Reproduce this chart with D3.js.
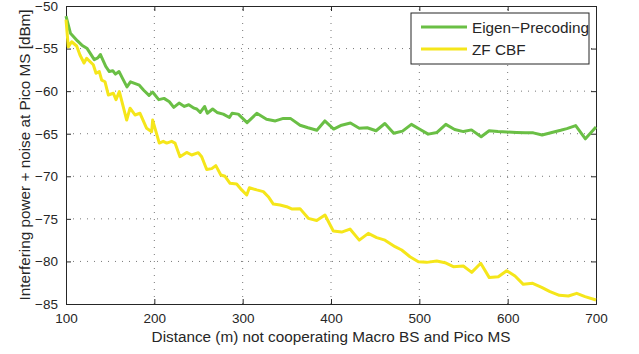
<!DOCTYPE html>
<html>
<head>
<meta charset="utf-8">
<script src="https://cdn.jsdelivr.net/npm/d3@7"></script>
<style>
  body { margin: 0; background: #fff; }
  text { font-family: "Liberation Sans", Arial, sans-serif; fill: #262626; }
</style>
</head>
<body>
<div id="viz"></div>
<script>
// data
const xTicks = [100, 200, 300, 400, 500, 600, 700]
const yTicks = [-85, -80, -75, -70, -65, -60, -55, -50]
const seriesNames = ["Eigen\u2212Precoding", "ZF CBF"]

const eigenDist = [100,105,113,118,124,132,136,139,145,149,153,156,160,164,169,173,183,188,194,198,205,211,217,222,228,234,239,245,248,252,257,260,266,271,278,285,288,295,305,316,327,337,346,354,365,374,384,393,403,412,422,432,441,451,461,471,481,491,501,510,520,530,540,550,559,570,579,589,599,610,620,629,639,650,660,667,677,688,700]
const eigenVal = [-51.2,-53.2,-54.1,-54.6,-55.0,-56.3,-56.1,-55.7,-57.1,-57.7,-57.6,-58.0,-57.7,-58.5,-59.5,-58.9,-59.3,-59.9,-60.5,-60.1,-61.0,-60.85,-61.25,-61.9,-61.4,-61.8,-61.6,-62.0,-62.1,-62.5,-61.8,-62.6,-62.1,-62.5,-62.7,-63.1,-62.6,-62.7,-63.7,-62.6,-63.3,-63.5,-63.2,-63.2,-64.0,-64.3,-64.6,-63.5,-64.45,-64.0,-63.75,-64.35,-64.3,-64.65,-63.8,-64.95,-64.7,-63.9,-64.5,-65.05,-64.85,-63.9,-64.5,-64.75,-64.55,-65.35,-64.65,-64.75,-64.8,-64.85,-64.9,-64.9,-65.15,-64.85,-64.6,-64.4,-64.05,-65.6,-64.2]

const zfDist = [100,102.6,106.4,112.1,115.8,120.4,123.4,130.9,134,137.7,140.4,144.2,147.9,153.6,156.6,160.4,168.7,172.5,178.1,183.8,191.3,197,198.1,205.6,210.1,214,219.6,223.4,229,236.6,242.3,249.8,253.6,259.3,265,269.6,275.3,280,285.7,293.2,298.9,304.6,307.6,315.9,323.4,329,334.7,342.3,349.8,355.5,364.9,374.3,383.8,393.2,402.6,412.1,421.5,432,442.2,451.7,461.1,472.5,480,489.4,498.9,508.3,519.7,529.1,538.5,549.8,559.3,569.5,579.2,589.4,598.9,608.3,617.7,628.3,638.5,647.9,658.5,668.7,678.2,687.6,700]
const zfVal = [-51.6,-54.8,-54.2,-54.7,-55.75,-56.7,-56.15,-56.9,-57.9,-57.7,-58.7,-58.9,-60.45,-60.25,-61.0,-60.06,-63.4,-62.0,-62.8,-62.6,-64.37,-64.76,-63.4,-66.1,-65.9,-66.1,-65.9,-66.1,-67.7,-67.2,-67.5,-67.23,-67.7,-69.2,-69.1,-68.75,-69.85,-70.0,-70.83,-70.9,-71.6,-72.2,-71.34,-71.6,-71.8,-72.4,-73.26,-73.37,-73.57,-73.84,-73.8,-74.94,-75.2,-74.55,-76.43,-76.55,-76.2,-77.5,-76.7,-77.2,-77.5,-78.27,-78.66,-79.45,-80.03,-80.11,-79.95,-80.15,-80.62,-80.54,-81.28,-80.22,-81.9,-81.8,-81.09,-81.71,-82.69,-82.57,-83.04,-83.55,-83.98,-84.06,-83.75,-84.14,-84.53]

const colors = { eigen: "#6abf45", zf: "#f5e61a", axis: "#262626", grid: "#555" }

const width = 639, height = 354
const margin = { top: 6, right: 43, bottom: 50, left: 66 }
const plotW = width - margin.left - margin.right
const plotH = height - margin.top - margin.bottom

const svg = d3.select("#viz").append("svg")
    .attr("width", width).attr("height", height)

const x = d3.scaleLinear().domain([100, 700]).range([margin.left, margin.left + plotW])
const y = d3.scaleLinear().domain([-85, -50]).range([margin.top + plotH, margin.top])

// dotted grid
const grid = svg.append("g")
grid.selectAll(".gx").data(xTicks.slice(1, -1)).join("line")
    .attr("x1", d => x(d)).attr("x2", d => x(d))
    .attr("y1", y(-85)).attr("y2", y(-50))
    .attr("stroke", colors.grid).attr("stroke-width", 0.8).attr("stroke-dasharray", "1,6")
grid.selectAll(".gy").data(yTicks.slice(1, -1)).join("line")
    .attr("x1", x(100)).attr("x2", x(700))
    .attr("y1", d => y(d)).attr("y2", d => y(d))
    .attr("stroke", colors.grid).attr("stroke-width", 0.8).attr("stroke-dasharray", "1,6")

// axes, ticks inward on all four sides
const fmt = d => d < 0 ? "\u2212" + Math.abs(d) : d
const xAxisB = d3.axisBottom(x).tickValues(xTicks).tickSize(-5).tickPadding(9).tickFormat(fmt)
const xAxisT = d3.axisTop(x).tickValues(xTicks).tickSize(-5).tickFormat("")
const yAxisL = d3.axisLeft(y).tickValues(yTicks).tickSize(-5).tickPadding(8).tickFormat(fmt)
const yAxisR = d3.axisRight(y).tickValues(yTicks).tickSize(-5).tickFormat("")

const styleAxis = g => {
    g.selectAll("path, line").attr("stroke", colors.axis).attr("stroke-width", 1)
    g.selectAll("text").attr("font-size", 13.5).attr("fill", colors.axis)
        .style("font-family", '"Liberation Sans", Arial, sans-serif')
}
svg.append("g").attr("transform", `translate(0,${y(-85)})`).call(xAxisB).call(styleAxis)
svg.append("g").attr("transform", `translate(0,${y(-50)})`).call(xAxisT).call(styleAxis)
svg.append("g").attr("transform", `translate(${x(100)},0)`).call(yAxisL).call(styleAxis)
svg.append("g").attr("transform", `translate(${x(700)},0)`).call(yAxisR).call(styleAxis)

// series
const line = d3.line().x(d => x(d[0])).y(d => y(d[1]))
const eigenPts = eigenDist.map((d, i) => [d, eigenVal[i]])
const zfPts = zfDist.map((d, i) => [d, zfVal[i]])

svg.append("path").attr("d", line(eigenPts))
    .attr("fill", "none").attr("stroke", colors.eigen).attr("stroke-width", 3).attr("stroke-linejoin", "round")
svg.append("path").attr("d", line(zfPts))
    .attr("fill", "none").attr("stroke", colors.zf).attr("stroke-width", 3).attr("stroke-linejoin", "round")

// axis titles
svg.append("text")
    .attr("x", margin.left + plotW / 2).attr("y", 342)
    .attr("text-anchor", "middle").attr("font-size", 15.3)
    .text("Distance (m) not cooperating Macro BS and Pico MS")
svg.append("text")
    .attr("transform", `translate(30,${margin.top + plotH / 2}) rotate(-90)`)
    .attr("text-anchor", "middle").attr("font-size", 15.3)
    .text("Interfering power + noise at Pico MS [dBm]")

// legend
const legend = svg.append("g").attr("transform", "translate(411,13)")
legend.append("rect").attr("width", 178).attr("height", 51)
    .attr("fill", "#fff").attr("stroke", colors.axis).attr("stroke-width", 1)
const legendColors = [colors.eigen, colors.zf]
seriesNames.forEach((name, i) => {
    const ly = 14 + i * 22
    legend.append("line").attr("x1", 10).attr("x2", 56).attr("y1", ly).attr("y2", ly)
        .attr("stroke", legendColors[i]).attr("stroke-width", 3)
    legend.append("text").attr("x", 61).attr("y", ly + 6).attr("font-size", 15.3).text(name)
})
</script>
</body>
</html>
